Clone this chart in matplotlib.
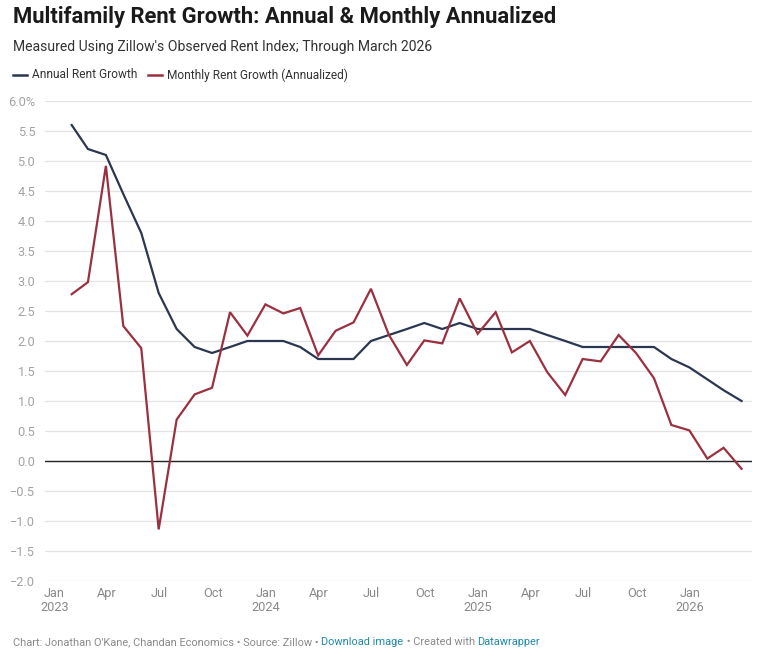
import matplotlib
matplotlib.use("Agg")
import matplotlib.pyplot as plt
import matplotlib.dates as mdates
from matplotlib.lines import Line2D
import pandas as pd

plt.rcParams['font.family'] = ['Roboto', 'DejaVu Sans']

# ---- data ----
start_month = "2023-01-31"
n_months = 39
annual_growth = [5.6, 5.2, 5.1, 4.45, 3.8, 2.8, 2.2, 1.9, 1.8, 1.9, 2.0, 2.0,
                 2.0, 1.9, 1.7, 1.7, 1.7, 2.0, 2.1, 2.2, 2.3, 2.2, 2.3, 2.2,
                 2.2, 2.2, 2.2, 2.1, 2.0, 1.9, 1.9, 1.9, 1.9, 1.9, 1.7, 1.56,
                 1.36, 1.18, 1.0]
monthly_growth = [2.78, 2.98, 4.92, 2.25, 1.88, -1.14, 0.69, 1.11, 1.22, 2.48, 2.09, 2.61,
                  2.46, 2.55, 1.76, 2.17, 2.31, 2.87, 2.1, 1.6, 2.01, 1.96, 2.71, 2.12,
                  2.48, 1.81, 2.0, 1.48, 1.1, 1.7, 1.66, 2.1, 1.8, 1.38, 0.6, 0.51,
                  0.04, 0.22, -0.13]
y_ticks = [6.0, 5.5, 5.0, 4.5, 4.0, 3.5, 3.0, 2.5, 2.0, 1.5, 1.0, 0.5, 0.0,
           -0.5, -1.0, -1.5, -2.0]
x_tick_dates = pd.date_range("2023-01-01", "2026-01-01", freq="3MS")
x_tick_labels = ["Jan\n2023", "Apr", "Jul", "Oct", "Jan\n2024", "Apr", "Jul", "Oct",
                 "Jan\n2025", "Apr", "Jul", "Oct", "Jan\n2026"]
series_names = ["Annual Rent Growth", "Monthly Rent Growth (Annualized)"]
title = "Multifamily Rent Growth: Annual & Monthly Annualized"
subtitle = "Measured Using Zillow's Observed Rent Index; Through March 2026"

dates = pd.date_range(start_month, periods=n_months, freq="ME")

NAVY = "#2b3650"
RED = "#9b3041"
GRID = "#e3e3e3"
YLAB = "#a3a3a3"
XLAB = "#8a8a8a"

W, H = 766, 666
fig = plt.figure(figsize=(W / 100, H / 100), dpi=100)
fig.patch.set_facecolor("white")

def px(x, y):
    return x / W, 1 - y / H

ax_l, ax_r, ax_t, ax_b = 45, 752, 101, 581
ax = fig.add_axes([ax_l / W, 1 - ax_b / H, (ax_r - ax_l) / W, (ax_b - ax_t) / H])

ax.plot(dates, annual_growth, color=NAVY, lw=1.6, solid_joinstyle="miter", zorder=3)
ax.plot(dates, monthly_growth, color=RED, lw=1.6, solid_joinstyle="miter", zorder=3)

ax.set_ylim(-2.0, 6.0)
ax.set_xlim(pd.Timestamp("2022-12-16"), pd.Timestamp("2026-04-18"))
ax.set_yticks(y_ticks)
ax.set_yticklabels([f"{v:.1f}%" if v == 6.0 else f"{v:.1f}".replace("-", "\u2212") for v in y_ticks])
ax.grid(axis="y", color=GRID, lw=0.9, zorder=0)
ax.axhline(0, color="#222222", lw=1.0, zorder=2)
ax.set_xticks(x_tick_dates)
ax.set_xticklabels(x_tick_labels, linespacing=1.1)
ax.tick_params(axis="y", length=0, pad=7, labelsize=9.2, labelcolor=YLAB)
ax.tick_params(axis="x", length=0, pad=4, labelsize=9.2, labelcolor=XLAB)
for lab in ax.get_xticklabels():
    lab.set_verticalalignment("top")
    lab.set_horizontalalignment("center")
for s in ax.spines.values():
    s.set_visible(False)
ax.set_facecolor("none")

# ---- title / subtitle ----
fig.text(*px(13, 17), title, fontsize=15.8, fontweight="bold", color="#1a1a1a",
         va="center", ha="left")
fig.text(*px(13, 47), subtitle, fontsize=10.05, color="#333333", va="center", ha="left")

# ---- legend ----
leg_y = 75
x0 = 13
for name, col in zip(series_names, [NAVY, RED]):
    fig.add_artist(Line2D([x0 / W, (x0 + 14) / W], [1 - leg_y / H] * 2, color=col, lw=1.8))
    t = fig.text((x0 + 19) / W, 1 - leg_y / H, name, fontsize=8.6, color="#333333",
                 va="center", ha="left")
    fig.canvas.draw()
    bb = t.get_window_extent()
    x0 = bb.x1 + 11

# ---- footer ----
renderer = fig.canvas.get_renderer()
parts = [("Chart: Jonathan O'Kane, Chandan Economics \u2022 Source: Zillow \u2022 ", "#8a8a8a"),
         ("Download image", "#1e8aa6"),
         (" \u2022 Created with ", "#8a8a8a"),
         ("Datawrapper", "#1e8aa6")]
fx = 13
for txt, col in parts:
    t = fig.text(fx / W, 1 - 642 / H, txt, fontsize=7.9, color=col, va="center", ha="left")
    bb = t.get_window_extent(renderer=renderer)
    fx = bb.x1

fig.savefig("out.png", dpi=100, facecolor="white")
